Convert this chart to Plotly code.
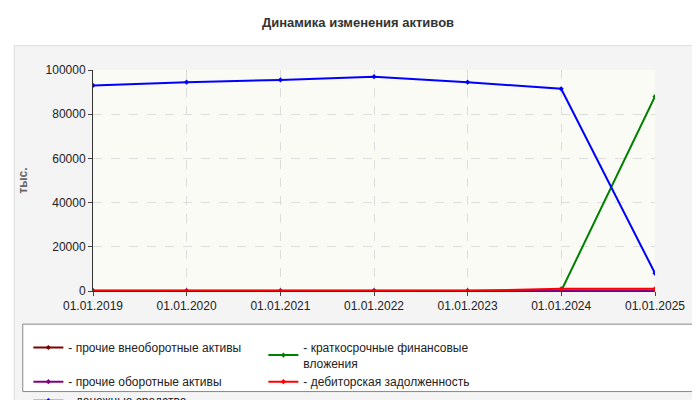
import plotly.graph_objects as go

dates = ["2019-01-01", "2020-01-01", "2021-01-01", "2022-01-01",
         "2023-01-01", "2024-01-01", "2025-01-01"]
labels = ["01.01.2019", "01.01.2020", "01.01.2021", "01.01.2022",
          "01.01.2023", "01.01.2024", "01.01.2025"]

other_noncurrent = [0, 0, 0, 0, 0, 0, 0]
short_fin = [0, 0, 0, 0, 0, 0, 88000]
other_current = [200, 200, 200, 200, 200, 200, 200]
receivables = [0, 0, 0, 0, 0, 1000, 1000]
cash = [93000, 94500, 95500, 97000, 94500, 91500, 8000]

series = [
    ("прочие внеоборотные активы", other_noncurrent, "#800000"),
    ("краткосрочные финансовые<br>вложения", short_fin, "#008000"),
    ("прочие оборотные активы", other_current, "#800080"),
    ("дебиторская задолженность", receivables, "#ff0000"),
    ("денежные средства", cash, "#0000ff"),
]

fig = go.Figure()
for name, vals, col in series:
    fig.add_trace(go.Scatter(
        x=dates, y=vals, name="- " + name, mode="lines+markers",
        line=dict(color=col, width=2), marker=dict(size=4, color=col, symbol="diamond"),
    ))

# outer grey panel, plot area and legend box
fig.add_shape(type="rect", xref="paper", yref="paper", x0=-0.14, x1=1.07, y0=-0.515, y1=1.11,
              fillcolor="#f4f4f4", line=dict(color="#dddddd", width=1), layer="below")
fig.add_shape(type="rect", xref="paper", yref="paper", x0=0, x1=1, y0=0, y1=1,
              fillcolor="#fbfbf6", line=dict(width=0), layer="below")
fig.add_shape(type="rect", xref="paper", yref="paper", x0=-0.125, x1=1.07, y0=-0.455, y1=-0.15,
              fillcolor="white", line=dict(color="#888888", width=1), layer="below")

fig.update_layout(
    width=700, height=400,
    margin=dict(l=85, r=53, t=62, b=117, autoexpand=False),
    paper_bgcolor="white", plot_bgcolor="rgba(0,0,0,0)",
    font=dict(family="Liberation Sans, Arial", size=12, color="#222222"),
    title=dict(text="<b>Динамика изменения активов</b>", x=0.5, y=0.975,
               font=dict(size=13, color="#333333")),
    showlegend=True,
    legend=dict(orientation="h", x=-0.115, y=-0.19, yanchor="top", xanchor="left",
                entrywidth=190, bgcolor="rgba(0,0,0,0)", font=dict(size=12),
                tracegroupgap=0),
    xaxis=dict(type="date", tickvals=dates, ticktext=labels, range=["2019-01-01", "2025-01-01"],
               showgrid=True, gridcolor="#dddddd", griddash="dash", showline=True,
               linecolor="#333333", ticks="outside", ticklen=4, zeroline=False),
    yaxis=dict(range=[0, 100000], dtick=20000, showgrid=True, gridcolor="#dddddd",
               griddash="dash", showline=True, linecolor="#333333", ticks="outside",
               ticklen=4, zeroline=False, tickformat="d",
               title=dict(text="<b>тыс.</b>", font=dict(size=12, color="#666666"), standoff=15)),
)

fig.write_html("out.html")
